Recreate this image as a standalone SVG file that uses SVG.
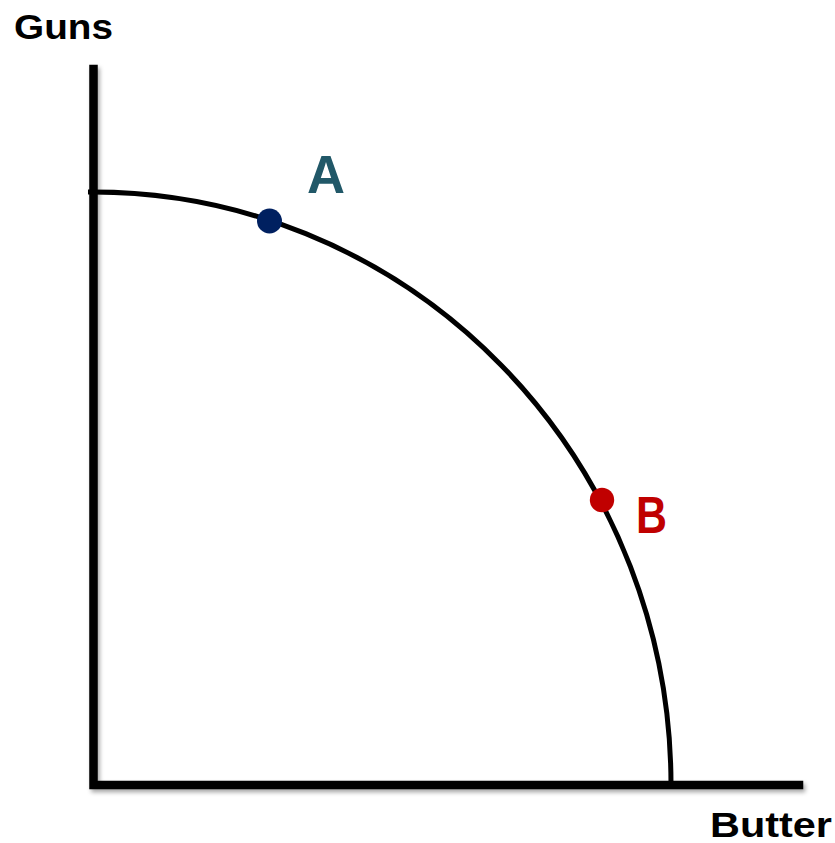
<svg xmlns="http://www.w3.org/2000/svg" width="835" height="843" viewBox="0 0 835 843">
<defs>
<filter id="sh" x="-5%" y="-5%" width="110%" height="110%">
<feDropShadow dx="2" dy="3" stdDeviation="2" flood-color="#000" flood-opacity="0.35"/>
</filter>
<style>
.lbl{font-family:"Liberation Sans",Arial,sans-serif;font-weight:bold}
.axis{stroke:#000;stroke-width:8.5;fill:none;stroke-linecap:square}
.curve{stroke:#000;stroke-width:5;fill:none}
</style>
</defs>
<rect width="835" height="843" fill="#fff"/>
<g id="axes" filter="url(#sh)">
<path class="axis" d="M93.5,69 V785 H799"/>
</g>
<g id="connectors">
<path id="ppf" class="curve" d="M88,192 L93,192 A578,593 0 0 1 671,785"/>
</g>
<g id="pointA">
<circle cx="269.5" cy="221" r="12.5" fill="#002060"/>
<text class="lbl" x="307" y="193" font-size="54" fill="#215868" textLength="38" lengthAdjust="spacingAndGlyphs">A</text>
</g>
<g id="pointB">
<circle cx="602" cy="500" r="12.2" fill="#c00000"/>
<text class="lbl" x="636" y="533" font-size="52" fill="#c00000" textLength="31" lengthAdjust="spacingAndGlyphs">B</text>
</g>
<g id="labelGuns">
<text class="lbl" x="14" y="39" font-size="35" fill="#000" textLength="99" lengthAdjust="spacingAndGlyphs">Guns</text>
</g>
<g id="labelButter">
<text class="lbl" x="710" y="837" font-size="35" fill="#000" textLength="122" lengthAdjust="spacingAndGlyphs">Butter</text>
</g>
</svg>
